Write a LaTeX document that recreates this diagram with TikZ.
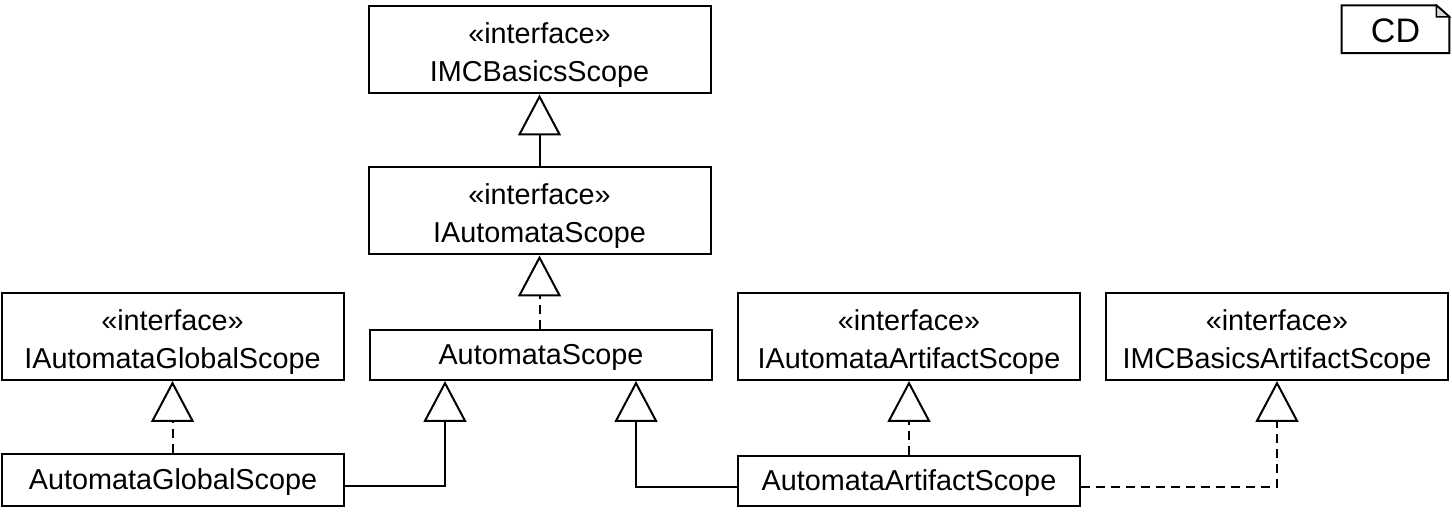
\documentclass[tikz,border=0pt]{standalone}
\usepackage{fontspec}
\setmainfont{Liberation Sans}
\usetikzlibrary{arrows.meta}
\begin{document}
\begin{tikzpicture}[x=0.5pt,y=-0.5pt,
  cls/.style={draw, line width=1pt, inner sep=0pt, align=center, minimum width=171pt,
    font=\fontsize{14.4}{19}\selectfont},
  twoline/.style={cls, minimum height=43.5pt, text height=35pt, text depth=3pt},
  oneline/.style={cls, minimum height=25pt, text height=12.5pt, text depth=3pt},
  gen/.style={line width=1pt, -{Triangle[open,length=20.5pt,width=21.5pt,line width=1pt]}},
  real/.style={gen, dash pattern=on 4.5pt off 3pt}]
\useasboundingbox (0,0) rectangle (1452,517);
% classes
\node[twoline] (imcb)   at (539.5,50)   {«interface»\\IMCBasicsScope};
\node[twoline] (iaut)   at (539.5,211)  {«interface»\\IAutomataScope};
\node[oneline] (aut)    at (541,355)    {AutomataScope};
\node[twoline] (iglob)  at (172.5,336.5) {«interface»\\IAutomataGlobalScope};
\node[oneline, minimum height=26pt] (glob) at (173,480.5) {AutomataGlobalScope};
\node[twoline] (iart)   at (909,336.5)  {«interface»\\IAutomataArtifactScope};
\node[oneline] (art)    at (909,481)    {AutomataArtifactScope};
\node[twoline] (imcart) at (1277,336.5) {«interface»\\IMCBasicsArtifactScope};
% CD note
\node[inner sep=0pt, minimum width=53.5pt, minimum height=23.5pt, text height=13.5pt, text depth=0pt,
  font=\fontsize{17}{19}\selectfont] (cd) at (1395.5,29.2) {CD};
\draw[line width=1pt] (cd.south west) -- (cd.north west) -- ([xshift=-6.5pt]cd.north east)
  -- ([yshift=-5.8pt]cd.north east) -- (cd.south east) -- cycle;
\filldraw[line width=0.8pt, fill=gray!30] ([xshift=-6.5pt]cd.north east)
  -- ([xshift=-6.5pt,yshift=-5.8pt]cd.north east) -- ([yshift=-5.8pt]cd.north east) -- cycle;
% connectors
\draw[gen]  (iaut.north) -- (imcb.south);
\draw[real] (aut.north -| iaut.south) -- (iaut.south);
\draw[real] (glob.north -| iglob.south) -- (iglob.south);
\draw[gen]  ([yshift=-3pt]glob.east) -| ([xshift=-48pt]aut.south);
\draw[gen]  ([yshift=-3pt]art.west) -| ([xshift=47.5pt]aut.south);
\draw[real] (art.north) -- (iart.south);
\draw[real] ([yshift=-3pt]art.east) -| (imcart.south);
\end{tikzpicture}
\end{document}
